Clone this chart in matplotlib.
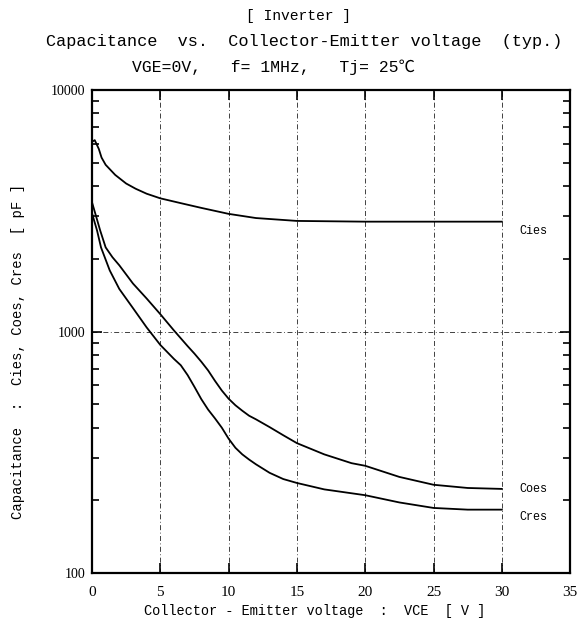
import numpy as np
import matplotlib
matplotlib.use("Agg")
import matplotlib.pyplot as plt
from matplotlib.ticker import LogLocator, NullFormatter, FixedLocator

# data
v_cies = [0, 0.2, 0.5, 0.7, 1, 1.7, 2.5, 3.2, 4, 5, 6.5, 8, 10, 12, 15, 20, 25, 30]
cies = [6100, 6200, 5700, 5250, 4900, 4450, 4100, 3900, 3720, 3560, 3400, 3250,
        3070, 2950, 2870, 2850, 2850, 2850]

v_coes = [0, 0.3, 0.6, 1.0, 1.5, 2, 3, 4, 5, 6, 7, 7.5, 8, 8.5, 9, 9.5, 10, 10.5,
          11, 11.5, 12, 13, 14, 15, 17, 19, 20, 22.5, 25, 27.5, 30]
coes = [3430, 3000, 2620, 2230, 2030, 1880, 1580, 1370, 1180, 1010, 870, 810, 750,
        690, 625, 570, 527, 495, 470, 448, 433, 402, 372, 345, 310, 285, 278, 250,
        232, 225, 223]

v_cres = [0, 0.37, 0.66, 1.3, 2, 3, 4, 5, 6, 6.5, 7, 7.5, 8, 8.5, 9, 9.5, 10,
          10.5, 11, 11.5, 12, 13, 14, 15, 17, 20, 22.5, 25, 27.5, 30]
cres = [3090, 2620, 2230, 1790, 1500, 1250, 1040, 880, 770, 725, 660, 590, 525,
        475, 437, 400, 360, 330, 310, 295, 282, 260, 245, 236, 222, 210, 196, 186,
        183, 183]

x_ticks = [0, 5, 10, 15, 20, 25, 30, 35]
y_ticks = [100, 1000, 10000]
y_ticklabels = ['100', '1000', '10000']

mono = ['Liberation Mono', 'Noto Sans CJK JP', 'DejaVu Sans']
serif = 'Liberation Serif'

fig = plt.figure(figsize=(5.8, 6.36), dpi=100)
ax = fig.add_axes([0.1586, 0.099, 0.8244, 0.7595])

ax.plot(v_cies, cies, color='black', lw=1.3)
ax.plot(v_coes, coes, color='black', lw=1.3)
ax.plot(v_cres, cres, color='black', lw=1.3)

ax.set_yscale('log')
ax.set_xlim(0, 35)
ax.set_ylim(100, 10000)
ax.set_xticks(x_ticks)
ax.set_xticklabels([str(t) for t in x_ticks], fontfamily=serif, fontsize=11)
ax.yaxis.set_major_locator(FixedLocator(y_ticks))
ax.set_yticklabels(y_ticklabels, fontfamily=serif, fontsize=10)
ax.yaxis.set_minor_locator(LogLocator(base=10, subs=np.arange(2, 10)))
ax.yaxis.set_minor_formatter(NullFormatter())

ax.tick_params(which='both', direction='in', top=True, right=True, color='black')
ax.tick_params(which='major', length=7, width=1.2)
ax.tick_params(axis='x', pad=9)
ax.tick_params(axis='y', pad=5)
ax.tick_params(which='minor', length=5, width=1.2)

ax.grid(True, which='major', color='#222222', lw=0.6, linestyle=(0, (6, 3, 1, 3)))
for s in ax.spines.values():
    s.set_linewidth(1.6)

# curve labels
ax.text(31.3, 2600, 'Cies', fontfamily=mono, fontsize=8.5, va='center')
ax.text(31.3, 223, 'Coes', fontfamily=mono, fontsize=8.5, va='center')
ax.text(31.3, 170, 'Cres', fontfamily=mono, fontsize=8.5, va='center')

# titles and axis labels
fig.text(0.514, 0.975, '[ Inverter ]', fontfamily=mono, fontsize=10.5,
         ha='center', va='center')
fig.text(0.524, 0.934, 'Capacitance  vs.  Collector-Emitter voltage  (typ.)',
         fontfamily=mono, fontsize=12.2, ha='center', va='center')
fig.text(0.472, 0.895, 'VGE=0V,   f= 1MHz,   Tj= 25\u2103',
         fontfamily=mono, fontsize=11.8, ha='center', va='center')
fig.text(0.543, 0.039, 'Collector - Emitter voltage  :  VCE  [ V ]',
         fontfamily=mono, fontsize=9.8, ha='center', va='center')
fig.text(0.031, 0.447, 'Capacitance  :  Cies, Coes, Cres  [ pF ]',
         fontfamily=mono, fontsize=10, ha='center', va='center', rotation=90)

fig.savefig('out.png', dpi=100)
